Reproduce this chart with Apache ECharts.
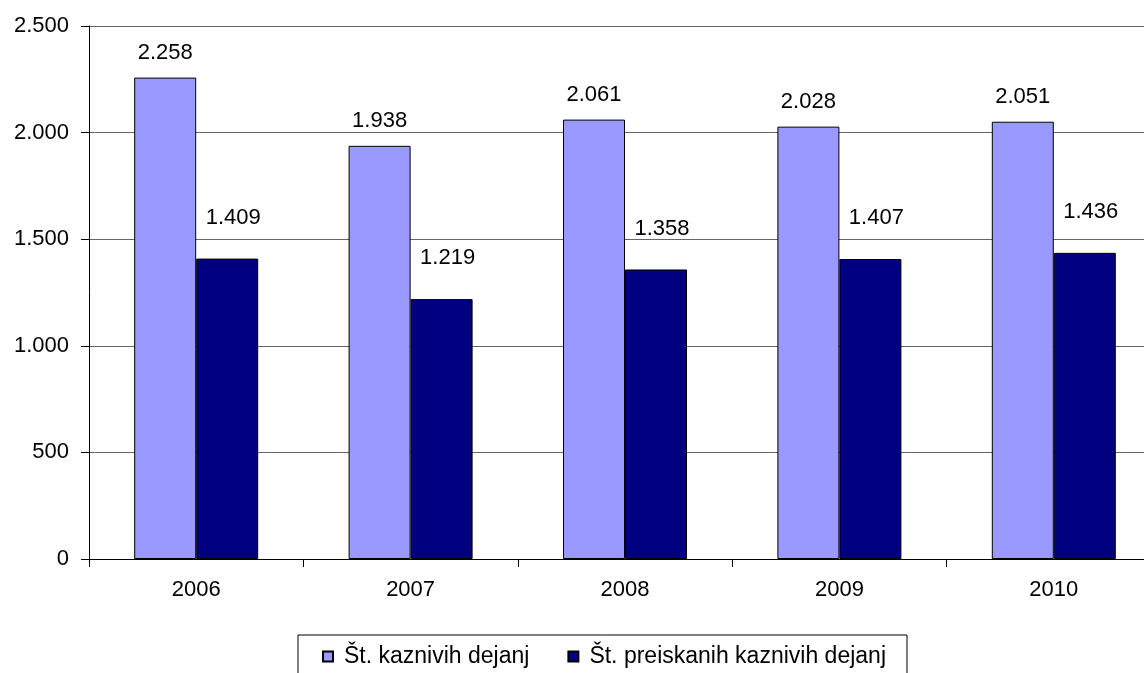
<!DOCTYPE html>
<html>
<head>
<meta charset="utf-8">
<script src="https://cdn.jsdelivr.net/npm/echarts@6/dist/echarts.min.js"></script>
<style>
  html, body { margin: 0; padding: 0; background: #fff; }
  #chart { width: 1144px; height: 673px; }
</style>
</head>
<body>
<div id="chart"></div>
<script>
// podatki
var years = ['2006', '2007', '2008', '2009', '2010'];
var kaznivaDejanja = [2258, 1938, 2061, 2028, 2051];
var preiskanaDejanja = [1409, 1219, 1358, 1407, 1436];
var seriesNames = ['Št. kaznivih dejanj', 'Št. preiskanih kaznivih dejanj'];

// 2258 -> "2.258"
function fmt(v) {
    var s = String(Math.round(v));
    return s.replace(/\B(?=(\d{3})+(?!\d))/g, '.');
}

var font = "'Liberation Sans', Arial, sans-serif";
var chart = echarts.init(document.getElementById('chart'));

chart.setOption({
    animation: false,
    textStyle: { fontFamily: font, color: '#000' },
    grid: { left: 89, top: 26, width: 1072, bottom: 114, outerBoundsMode: 'none' },
    legend: {
        left: 298,
        top: 635,
        padding: [10, 21, 20, 24],
        borderColor: '#000',
        borderWidth: 1,
        itemWidth: 10,
        itemHeight: 10,
        itemGap: 38,
        selectedMode: false,
        icon: 'rect',
        textStyle: { fontSize: 23, fontFamily: font, color: '#000', padding: [0, 0, 0, 6] },
        data: seriesNames
    },
    xAxis: {
        type: 'category',
        data: years,
        axisLine: { lineStyle: { color: '#000', width: 1 } },
        axisTick: { show: true, length: 8, lineStyle: { color: '#000' } },
        axisLabel: { fontSize: 22, color: '#000', margin: 20, fontFamily: font }
    },
    yAxis: {
        type: 'value',
        min: 0,
        max: 2500,
        interval: 500,
        axisLine: { show: true, lineStyle: { color: '#000', width: 1 } },
        axisTick: { show: true, length: 8, lineStyle: { color: '#000' } },
        axisLabel: { fontSize: 22, color: '#000', margin: 20, fontFamily: font, formatter: fmt },
        splitLine: { lineStyle: { color: '#666', width: 1 } }
    },
    series: [
        {
            name: seriesNames[0],
            type: 'bar',
            data: kaznivaDejanja,
            barWidth: 62,
            barGap: '0%',
            itemStyle: { color: '#9999FF', borderColor: '#000', borderWidth: 1 },
            label: {
                show: true,
                position: 'top',
                distance: 14,
                fontSize: 22,
                color: '#000',
                fontFamily: font,
                formatter: function (p) { return fmt(p.value); }
            }
        },
        {
            name: seriesNames[1],
            type: 'bar',
            data: preiskanaDejanja,
            barWidth: 62,
            barGap: '0%',
            itemStyle: { color: '#000080', borderColor: '#000', borderWidth: 1 },
            label: {
                show: true,
                position: 'top',
                distance: 30,
                offset: [6, 0],
                fontSize: 22,
                color: '#000',
                fontFamily: font,
                formatter: function (p) { return fmt(p.value); }
            }
        }
    ]
});
</script>
</body>
</html>
